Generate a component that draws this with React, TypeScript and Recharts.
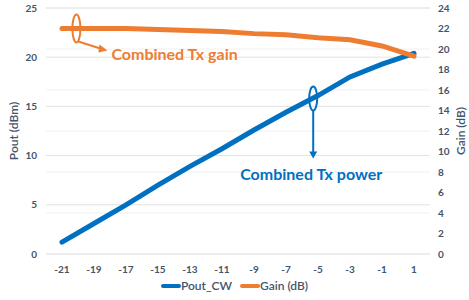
import React from "react";
import {
  ComposedChart,
  Line,
  XAxis,
  YAxis,
  CartesianGrid,
  Legend,
  ReferenceDot,
} from "recharts";

// input power steps (x axis)
const inputPower = [-21, -19, -17, -15, -13, -11, -9, -7, -5, -3, -1, 1];
const poutCW = [1.2, 3.1, 5.0, 7.0, 8.9, 10.7, 12.6, 14.4, 16.1, 18.0, 19.3, 20.4];
const gainDb = [22.0, 22.0, 22.0, 21.9, 21.8, 21.7, 21.5, 21.4, 21.1, 20.9, 20.3, 19.3];

const leftTicks = [0, 5, 10, 15, 20, 25];
const rightTicks = [0, 2, 4, 6, 8, 10, 12, 14, 16, 18, 20, 22, 24];
const boundaryTicks = [-22, -20, -18, -16, -14, -12, -10, -8, -6, -4, -2, 0, 2];

const BLUE = "#0070C0";
const ORANGE = "#ED7D31";
const TEXT = "#44546A";
const FONT = "Lato, 'Open Sans', sans-serif";

const data = inputPower.map((x, i) => ({
  x,
  pout: poutCW[i],
  gain: gainDb[i],
}));

const tickStyle = { fill: TEXT, fontSize: 10, fontWeight: 700, fontFamily: FONT };
const titleStyle = { fill: TEXT, fontSize: 12, fontWeight: 600, fontFamily: FONT, textAnchor: "middle" };

function GainNote(props: any) {
  const { cx, cy } = props;
  return (
    <g>
      <ellipse cx={cx} cy={cy} rx={4} ry={14} fill="none" stroke={ORANGE} strokeWidth={2} />
      <line x1={cx + 2} y1={cy + 13} x2={cx + 27} y2={cy + 21} stroke={ORANGE} strokeWidth={2} />
      <polygon
        points={`${cx + 31},${cy + 22} ${cx + 23},${cy + 16} ${cx + 22},${cy + 24}`}
        fill={ORANGE}
      />
      <text x={cx + 35} y={cy + 31} fill={ORANGE} fontSize={16} fontWeight={700} fontFamily={FONT}>
        Combined Tx gain
      </text>
    </g>
  );
}

function PowerNote(props: any) {
  const { cx, cy } = props;
  return (
    <g>
      <ellipse cx={cx} cy={cy} rx={4} ry={12} fill="none" stroke={BLUE} strokeWidth={2} />
      <line x1={cx} y1={cy + 12} x2={cx} y2={cy + 54} stroke={BLUE} strokeWidth={2} />
      <polygon points={`${cx - 4},${cy + 53} ${cx + 4},${cy + 53} ${cx},${cy + 60}`} fill={BLUE} />
      <text x={cx - 73} y={cy + 81} fill={BLUE} fontSize={16} fontWeight={700} fontFamily={FONT}>
        Combined Tx power
      </text>
    </g>
  );
}

function LegendBox() {
  const items = [
    { name: "Pout_CW", color: BLUE },
    { name: "Gain (dB)", color: ORANGE },
  ];
  return (
    <div style={{ display: "flex", justifyContent: "center", gap: 8, fontFamily: FONT }}>
      {items.map((it) => (
        <div key={it.name} style={{ display: "flex", alignItems: "center" }}>
          <span style={{ display: "inline-block", width: 20, height: 4, background: it.color, borderRadius: 2 }} />
          <span style={{ fontSize: 12, color: TEXT, fontWeight: 600 }}>{it.name}</span>
        </div>
      ))}
    </div>
  );
}

export default function App() {
  return (
    <div style={{ width: 469, height: 300, background: "#fff" }}>
      <style>{`body{margin:0}`}</style>
      <ComposedChart width={469} height={300} data={data} margin={{ top: 8, right: 0, left: 0, bottom: 0 }}>
        <CartesianGrid yAxisId="right" xAxisId="main" vertical={false} stroke="#F0F0F0" />
        <CartesianGrid yAxisId="left" xAxisId="main" vertical={false} stroke="#E2E2E2" />
        <XAxis
          xAxisId="edges"
          dataKey="x"
          type="number"
          domain={[-22, 2]}
          ticks={boundaryTicks}
          tick={false}
          height={0}
          tickSize={5}
          stroke="#D9D9D9"
        />
        <XAxis
          xAxisId="main"
          dataKey="x"
          type="number"
          domain={[-22, 2]}
          ticks={inputPower}
          interval={0}
          tickLine={false}
          axisLine={false}
          tick={tickStyle}
          tickMargin={6}
          height={24}
        />
        <YAxis
          yAxisId="left"
          domain={[0, 25]}
          ticks={leftTicks}
          width={46}
          axisLine={false}
          tickLine={false}
          tick={tickStyle}
          tickMargin={3}
          label={{ value: "Pout (dBm)", angle: -90, position: "insideLeft", offset: 14, style: titleStyle }}
        />
        <YAxis
          yAxisId="right"
          orientation="right"
          domain={[0, 24]}
          ticks={rightTicks}
          width={39}
          axisLine={false}
          tickLine={false}
          tick={tickStyle}
          tickMargin={2}
          label={{ value: "Gain (dB)", angle: -90, position: "insideRight", offset: 8, style: titleStyle }}
        />
        <Legend verticalAlign="bottom" height={22} content={<LegendBox />} />
        <Line
          xAxisId="main"
          yAxisId="left"
          dataKey="pout"
          name="Pout_CW"
          stroke={BLUE}
          strokeWidth={5}
          dot={false}
          strokeLinecap="round"
          isAnimationActive={false}
        />
        <Line
          xAxisId="main"
          yAxisId="right"
          dataKey="gain"
          name="Gain (dB)"
          stroke={ORANGE}
          strokeWidth={5}
          dot={false}
          strokeLinecap="round"
          isAnimationActive={false}
        />
        <ReferenceDot xAxisId="main" yAxisId="right" x={-20.1} y={22} shape={GainNote} />
        <ReferenceDot xAxisId="main" yAxisId="left" x={-5.3} y={15.8} shape={PowerNote} />
      </ComposedChart>
    </div>
  );
}
